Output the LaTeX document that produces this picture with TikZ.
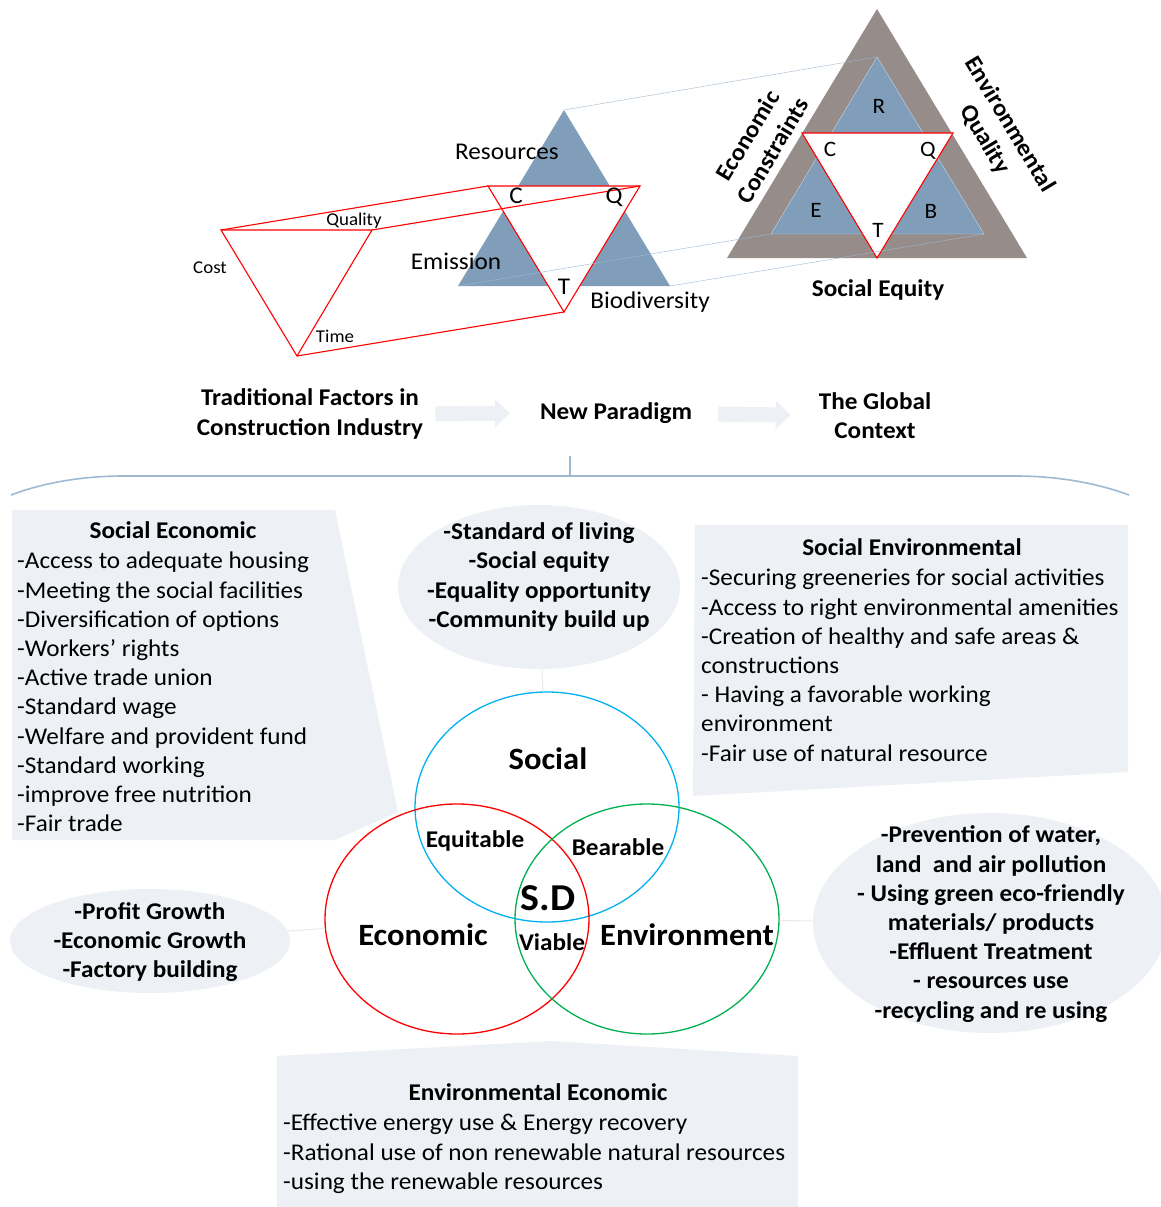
\documentclass[tikz,border=0pt]{standalone}
\usepackage{fontspec}
\setmainfont{Carlito}[FakeStretch=1.05]
\usetikzlibrary{shapes.geometric,arrows.meta}
\definecolor{tri}{RGB}{128,158,186}
\definecolor{frame}{RGB}{150,140,138}
\definecolor{link}{RGB}{160,185,210}
\definecolor{pale}{RGB}{237,240,245}
\definecolor{socblue}{RGB}{0,176,240}
\definecolor{envgreen}{RGB}{0,176,80}

\begin{document}
\begin{tikzpicture}[x=1pt,y=-1pt,
  lbl/.style={inner sep=0pt,font=\fontsize{24}{29}\selectfont},
  letter/.style={inner sep=0pt,font=\fontsize{22}{26}\selectfont},
  small/.style={inner sep=0pt,font=\fontsize{18}{22}\selectfont},
  bold/.style={inner sep=0pt,align=center,font=\bfseries\fontsize{24}{29.2}\selectfont},
  items/.style={inner sep=0pt,align=left,anchor=north west,font=\fontsize{24}{29.2}\selectfont},
  blob/.style={ellipse,fill=pale,inner sep=0pt},
  ring/.style={ellipse,draw,line width=1.3pt,minimum width=264pt,minimum height=230pt,inner sep=0pt},
  blockarr/.style={draw=pale,line width=15pt,-{Triangle[width=28pt,length=15pt,fill=pale]}},
  faint/.style={draw=pale!80!gray!60,line width=1pt}]
\useasboundingbox (0,0) rectangle (1161,1207);

% triangles
\coordinate (lc) at (221,230);
\coordinate (lq) at (372,230);
\coordinate (lt) at (297,356);
\coordinate (mR) at (564,110);
\coordinate (mE) at (458,286);
\coordinate (mB) at (670,286);
\coordinate (mc) at (488,186);
\coordinate (mq) at (640,186);
\coordinate (mt) at (564,312);
\coordinate (gA) at (877,9);
\coordinate (gL) at (727,258);
\coordinate (gB) at (1027,258);
\coordinate (rR) at (877,57);
\coordinate (rE) at (771,234);
\coordinate (rB) at (984,234);
\coordinate (rc) at (802,133);
\coordinate (rq) at (953,133);
\coordinate (rt) at (877,258);

\fill[tri] (mR) -- (mE) -- (mB) -- cycle;
\filldraw[fill=white,draw=red,line width=1.1pt] (mc) -- (mq) -- (mt) -- cycle;
\draw[red,line width=1.1pt] (lc) -- (lq) -- (lt) -- cycle;
\draw[red,line width=1.1pt] (lc) -- (mc) (lq) -- (mq) (lt) -- (mt);

\fill[frame] (gA) -- (gL) -- (gB) -- cycle;
\filldraw[fill=tri,draw=link!60] (rR) -- (rE) -- (rB) -- cycle;
\filldraw[fill=white,draw=red,line width=1.1pt] (rc) -- (rq) -- (rt) -- cycle;

\draw[link] (mR) -- (rR);
\draw[link] (mE) -- (rE);
\draw[link] (mB) -- (rB);

\node[small] (cost) at (210,268) {Cost};
\node[small] (qual) at (354,221) {Quality};
\node[small] (time) at (335,336) {Time};
\node[lbl] (res) at (507,152) {Resources};
\node[lbl] (emi) at (456,261) {Emission};
\node[lbl] (bio) at (650,302) {Biodiversity};
\node[lbl] (mC) at (516,196) {C};
\node[lbl] (mQ) at (614,197) {Q};
\node[lbl] (mT) at (564,287) {T};
\node[letter] (R) at (879,106) {R};
\node[letter] (C) at (830,149) {C};
\node[letter] (Q) at (928,151) {Q};
\node[letter] (E) at (816,210) {E};
\node[letter] (B) at (931,211) {B};
\node[letter] (T) at (878,230) {T};
\node[bold] (seq) at (878,290) {Social Equity};
\node[bold,rotate=59] (ecc) at (760,143) {Economic\\Constraints};
\node[bold,rotate=-59] (envq) at (997,132) {Environmental\\Quality};

% paradigm row
\node[bold] (trad) at (310,414) {Traditional Factors in\\Construction Industry};
\node[bold] (newp) at (616,413) {New Paradigm};
\node[bold] (glob) at (875,416) {The Global\\Context};
\draw[blockarr,shorten <=12pt,shorten >=30pt] (trad) -- (newp);
\draw[blockarr,shorten <=26pt,shorten >=28pt] (newp) -- (glob);

\coordinate (bl) at (11,495);
\coordinate (br) at (1129,495);
\coordinate (st) at (570,456);
\coordinate (sb) at (570,476);
\draw[link,line width=1.6pt] (bl) .. controls (45,482) and (85,476) .. (123,476) -- (1016,476) .. controls (1054,476) and (1094,482) .. (br);
\draw[link,line width=1.6pt] (st) -- (sb);

% boxes
\fill[pale] (12,510) -- (335,510) -- (398,812) -- (335,840) -- (12,840) -- cycle;
\fill[pale] (695,525) -- (1128,525) -- (1128,772) -- (693,796) -- cycle;
\fill[pale] (277,1056) -- (551,1041) -- (798,1056) -- (798,1207) -- (277,1207) -- cycle;

\node[bold] (set) at (173,530) {Social Economic};
\node[items] (setl) at (17,552) {-Access to adequate housing\\-Meeting the social facilities\\-Diversification of options\\-Workers’ rights\\-Active trade union\\-Standard wage\\-Welfare and provident fund\\-Standard working\\-improve free nutrition\\-Fair trade};
\node[bold] (sen) at (912,547) {Social Environmental};
\node[items] (senl) at (701,569) {-Securing greeneries for social activities\\-Access to right environmental amenities\\-Creation of healthy and safe areas \&\\constructions\\- Having a favorable working\\environment\\-Fair use of natural resource};
\node[bold] (een) at (538,1092) {Environmental Economic};
\node[items] (eenl) at (283,1114) {-Effective energy use \& Energy recovery\\-Rational use of non renewable natural resources\\-using the renewable resources};

% blobs
\node[blob,minimum width=282pt,minimum height=164pt] (topb) at (539,587) {};
\node[bold] (topt) at (539,577) {-Standard of living\\-Social equity\\-Equality opportunity\\-Community build up};
\node[blob,minimum width=280pt,minimum height=104pt] (leftb) at (150,941) {};
\node[bold] (leftt) at (150,942) {-Profit Growth\\-Economic Growth\\-Factory building};
\node[blob,minimum width=354pt,minimum height=220pt] (rightb) at (990,923) {};
\node[bold] (rightt) at (991,924) {-Prevention of water,\\land\ \ and air pollution\\- Using green eco-friendly\\materials/ products\\-Effluent Treatment\\- resources use\\-recycling and re using};

% venn
\node[ring,draw=socblue] (soc) at (547,807) {};
\node[ring,draw=red] (eco) at (457,919) {};
\node[ring,draw=envgreen] (env) at (647,919) {};
\draw[faint] (topb) -- (soc);
\draw[faint] (leftb) -- (eco);
\draw[faint] (rightb) -- (env);

\node[bold,font=\bfseries\fontsize{31}{36}\selectfont] (socl) at (548,759) {Social};
\node[bold,font=\bfseries\fontsize{31}{36}\selectfont] (ecol) at (423,935) {Economic};
\node[bold,font=\bfseries\fontsize{31}{36}\selectfont] (envl) at (687,935) {Environment};
\node[bold] (equ) at (475,841) {Equitable};
\node[bold] (bea) at (618,847) {Bearable};
\node[bold] (via) at (552,942) {Viable};
\node[bold,font=\bfseries\fontsize{38}{44}\selectfont] (sd) at (548,898) {S.D};
\end{tikzpicture}
\end{document}
